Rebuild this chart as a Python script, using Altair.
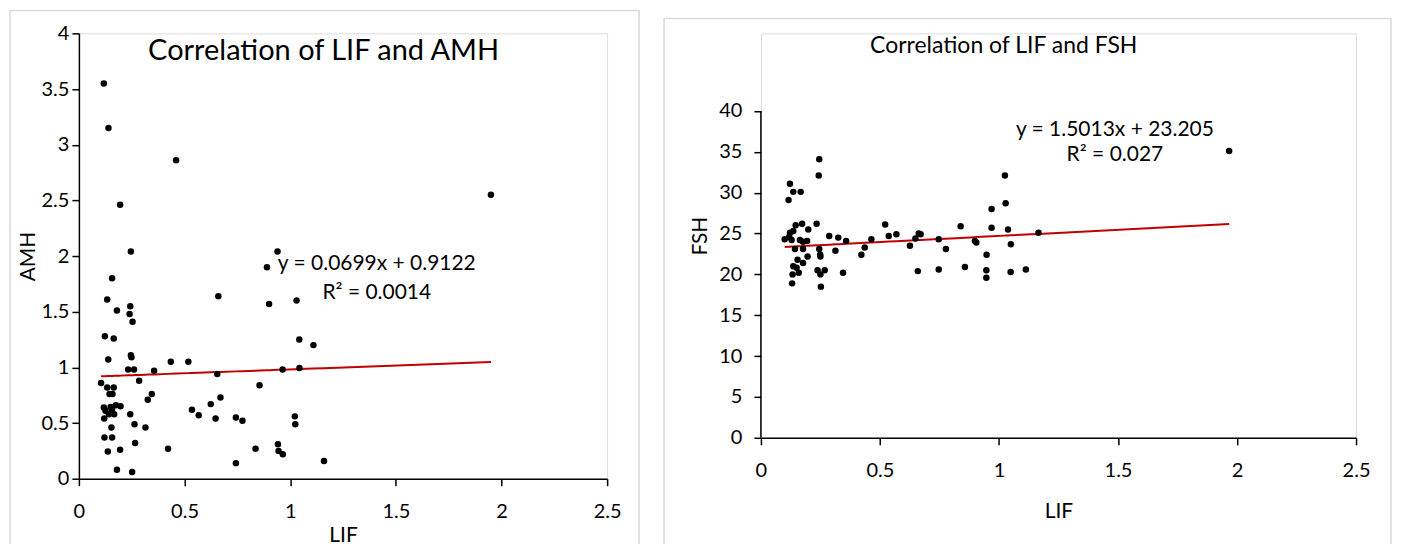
import altair as alt
import pandas as pd

# ---------------- data ----------------
# Left panel: LIF vs AMH
amh_lif = [0.118, 0.14, 0.46, 0.195, 1.95, 0.246, 0.94, 0.89, 0.157, 0.134, 0.66, 0.90, 1.03,
           0.18, 0.243, 0.24, 0.254, 0.123, 0.165, 1.043, 1.11, 0.139, 0.246, 0.249, 0.233,
           0.261, 0.435, 0.518, 0.356, 0.655, 0.964, 1.044, 0.105, 0.285, 0.855, 0.134, 0.165,
           0.145, 0.159, 0.345, 0.326, 0.67, 0.175, 0.197, 0.624, 0.118, 0.15, 0.126, 0.157,
           0.142, 0.167, 0.12, 0.243, 0.535, 0.567, 0.647, 0.743, 0.774, 1.022, 1.024, 0.154,
           0.263, 0.315, 0.121, 0.157, 0.266, 0.137, 0.195, 0.422, 0.836, 0.942, 0.945, 0.965,
           0.743, 0.18, 0.252, 1.16]
amh_values = [3.55, 3.15, 2.86, 2.46, 2.55, 2.04, 2.04, 1.90, 1.80, 1.61, 1.64, 1.57, 1.60,
              1.51, 1.55, 1.48, 1.41, 1.28, 1.26, 1.25, 1.20, 1.07, 1.11, 1.09, 0.98,
              0.98, 1.05, 1.05, 0.97, 0.94, 0.98, 0.995, 0.86, 0.88, 0.84, 0.82, 0.82,
              0.76, 0.76, 0.76, 0.71, 0.73, 0.66, 0.65, 0.67, 0.64, 0.645, 0.61, 0.62,
              0.58, 0.58, 0.54, 0.58, 0.62, 0.57, 0.54, 0.55, 0.52, 0.56, 0.49, 0.46,
              0.49, 0.46, 0.37, 0.37, 0.32, 0.245, 0.26, 0.27, 0.27, 0.31, 0.25, 0.22,
              0.14, 0.08, 0.06, 0.16]

# Right panel: LIF vs FSH
fsh_lif = [0.245, 0.243, 0.122, 0.136, 0.167, 0.116, 0.234, 0.146, 0.173, 0.199, 0.122, 0.136,
           0.10, 0.119, 0.129, 0.164, 0.194, 0.177, 0.287, 0.325, 0.358, 0.464, 0.522, 0.537,
           0.569, 0.649, 0.663, 0.671, 0.626, 0.143, 0.177, 0.245, 0.249, 0.313, 0.436, 0.422,
           0.196, 0.25, 0.154, 0.177, 0.136, 0.15, 0.238, 0.268, 0.25, 0.133, 0.159, 0.345,
           0.659, 0.131, 0.252, 1.025, 1.028, 0.969, 0.839, 0.969, 1.038, 1.166, 0.747, 0.899,
           0.905, 0.777, 1.05, 0.948, 0.747, 0.857, 0.947, 0.947, 1.049, 1.113, 1.967]
fsh_values = [34.1, 32.1, 31.1, 30.1, 30.1, 29.1, 26.2, 26.0, 26.2, 25.5, 25.1, 25.3,
              24.3, 24.6, 24.2, 24.2, 24.1, 24.0, 24.7, 24.5, 24.1, 24.3, 26.1, 24.7,
              24.9, 24.4, 25.0, 24.9, 23.5, 23.1, 23.1, 23.1, 22.4, 22.9, 23.3, 22.4,
              22.2, 22.2, 21.8, 21.4, 21.0, 20.8, 20.5, 20.5, 20.0, 20.0, 20.2, 20.2,
              20.4, 18.9, 18.5, 32.1, 28.7, 28.0, 25.9, 25.7, 25.5, 25.1, 24.3, 24.1,
              23.9, 23.1, 23.7, 22.4, 20.6, 20.9, 20.5, 19.6, 20.3, 20.6, 35.1]

x_ticks = [0, 0.5, 1, 1.5, 2, 2.5]
amh_ticks = [0, 0.5, 1, 1.5, 2, 2.5, 3, 3.5, 4]
fsh_ticks = [0, 5, 10, 15, 20, 25, 30, 35, 40]

amh_fit = (0.0699, 0.9122)
fsh_fit = (1.5013, 23.205)

amh_title = "Correlation of LIF and AMH"
fsh_title = "Correlation of LIF and FSH"
amh_eq = ["y = 0.0699x + 0.9122", "R² = 0.0014"]
fsh_eq = ["y = 1.5013x + 23.205", "R² = 0.027"]

FONT = "Lato"
RED = "#C00000"
BORDER = "#d9d9d9"


def make_axis(values, title_pad, label_pad, show_domain=True):
    return alt.Axis(values=values, format="~g", grid=False, domain=show_domain,
                    domainColor="black", domainWidth=1.5, tickColor="black", tickWidth=1.5,
                    tickSize=7, labelFont=FONT, labelFontSize=20, labelColor="black",
                    labelPadding=label_pad, labelFlush=False, labelOverlap=False,
                    titleFont=FONT, titleFontSize=21, titleColor="black", titleFontWeight="normal",
                    titlePadding=title_pad)


def panel(lif, vals, ydom, yticks, ytop, ytitle, fit, title, title_size, title_xy, eq, eq_x, eq_ys,
          w, h, border, xlab_pad, xtitle_pad, ylab_pad, ytitle_pad, own_domain):
    df = pd.DataFrame({"LIF": lif, "V": vals})
    xs = alt.Scale(domain=[0, 2.5], nice=False, zero=False)
    ys = alt.Scale(domain=ydom, nice=False, zero=False)
    X = alt.X("LIF:Q", scale=xs, title="LIF", axis=make_axis(x_ticks, xtitle_pad, xlab_pad))
    Y = alt.Y("V:Q", scale=ys, title=ytitle,
              axis=make_axis(yticks, ytitle_pad, ylab_pad, show_domain=not own_domain))

    bx1, bx2, by1, by2 = border
    frame = alt.Chart(pd.DataFrame({"k": [0]})).mark_rect(
        fill="transparent", stroke=BORDER, strokeWidth=1.5
    ).encode(x=alt.value(bx1), x2=alt.value(bx2), y=alt.value(by1), y2=alt.value(by2))

    pts = alt.Chart(df).mark_circle(size=42, color="black", opacity=1).encode(x=X, y=Y)

    slope, icpt = fit
    trend = alt.Chart(df).transform_calculate(
        fit=f"{slope} * datum.LIF + {icpt}"
    ).mark_line(color=RED, strokeWidth=2).encode(
        x=alt.X("LIF:Q", scale=xs), y=alt.Y("fit:Q", scale=ys)
    )

    tdf = pd.DataFrame({"LIF": [title_xy[0]], "V": [title_xy[1]], "t": [title]})
    ttl = alt.Chart(tdf).mark_text(font=FONT, fontSize=title_size, color="black",
                                   align="center", baseline="middle").encode(
        x=alt.X("LIF:Q", scale=xs), y=alt.Y("V:Q", scale=ys), text="t:N")

    edf = pd.DataFrame({"LIF": [eq_x, eq_x], "V": eq_ys, "t": eq})
    eqt = alt.Chart(edf).mark_text(font=FONT, fontSize=21, color="black",
                                   align="center", baseline="middle").encode(
        x=alt.X("LIF:Q", scale=xs), y=alt.Y("V:Q", scale=ys), text="t:N")

    layers = [frame]
    if own_domain:
        adf = pd.DataFrame({"LIF": [0], "V0": [ydom[0]], "V1": [ytop]})
        axis_line = alt.Chart(adf).mark_rule(color="black", strokeWidth=1.5).encode(
            x=alt.X("LIF:Q", scale=xs), y=alt.Y("V0:Q", scale=ys), y2="V1:Q")
        layers.append(axis_line)
    layers += [trend, pts, ttl, eqt]
    return alt.layer(*layers).properties(width=w, height=h)


left = panel(amh_lif, amh_values, [0, 4], amh_ticks, 4, "AMH", amh_fit, amh_title, 29,
             (1.158, 3.84), amh_eq, 1.41, [1.926, 1.668],
             529, 446, (-69, 561, -23, 529), 16, 3, 3, 3, False)

# the right plot area starts level with the left one; its y scale runs past 40
# so that 40 sits lower, as in the reference
right = panel(fsh_lif, fsh_values, [0, 49.5], fsh_ticks, 40, "FSH", fsh_fit, fsh_title, 23,
              (1.02, 48.0), fsh_eq, 1.487, [37.65, 34.6],
              596, 405, (-97, 631, -15, 529), 16, 20, 12, 8, True)

chart = alt.hconcat(left, right, spacing=21).properties(padding=0).configure_view(
    strokeWidth=0
).configure(font=FONT)

chart.save("out.html", embed_options={"renderer": "svg", "actions": False})
